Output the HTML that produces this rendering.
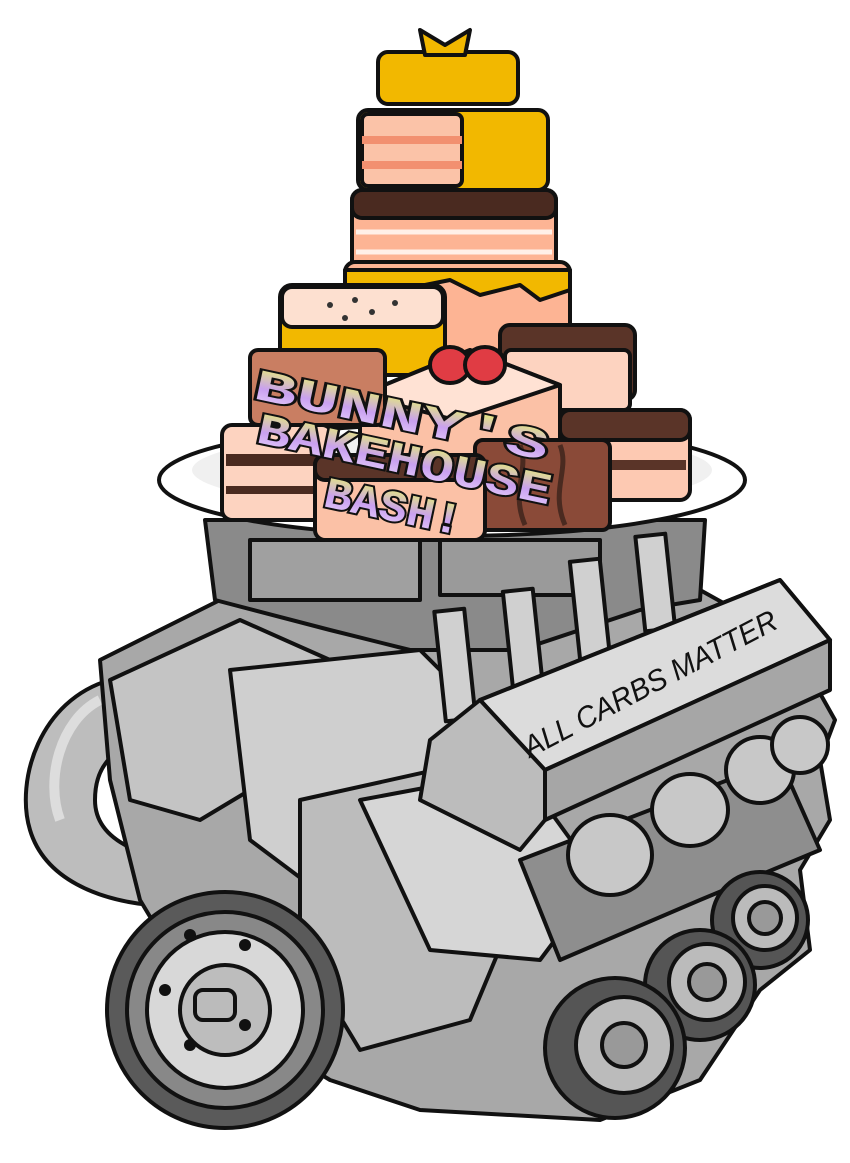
<!DOCTYPE html>
<html><head><meta charset="utf-8"><style>
html,body{margin:0;padding:0;background:#fff}
svg{display:block}
</style></head><body>
<svg width="850" height="1163" viewBox="0 0 850 1163" xmlns="http://www.w3.org/2000/svg">
<defs>
<linearGradient id="tg" x1="0" y1="0" x2="0" y2="1">
<stop offset="0" stop-color="#e8f070"/><stop offset="0.5" stop-color="#c9a0f0"/><stop offset="1" stop-color="#f0e0ff"/>
</linearGradient>
</defs>
<g stroke="#111" stroke-width="4" stroke-linejoin="round">
<path d="M110 680 C40 700 15 780 30 830 C45 880 100 900 150 905 L170 860 C120 850 95 830 95 800 C95 760 120 745 150 740 Z" fill="#bdbdbd"/>
<path d="M100 700 C60 720 45 780 60 820" fill="none" stroke="#ddd" stroke-width="10"/>
<path d="M100 660 L240 590 L430 600 L560 560 L700 590 L790 640 L835 720 L820 760 L830 820 L800 870 L810 950 L760 990 L700 1080 L600 1120 L420 1110 L330 1080 L200 1000 L140 900 L110 780 Z" fill="#a8a8a8"/>
<path d="M110 680 L240 620 L330 660 L300 760 L200 820 L130 800 Z" fill="#c4c4c4"/>
<path d="M230 670 L420 650 L470 700 L430 860 L330 900 L250 840 Z" fill="#cfcfcf"/>
<path d="M300 800 L480 760 L520 900 L470 1020 L360 1050 L300 950 Z" fill="#bcbcbc"/>
<path d="M360 800 L520 770 L600 880 L540 960 L430 950 Z" fill="#d6d6d6"/>
<path d="M520 860 L780 760 L820 850 L700 900 L560 960 Z" fill="#8e8e8e"/>
<path d="M205 520 L705 520 L700 600 L640 610 L520 650 L410 650 L330 630 L215 600 Z" fill="#8a8a8a"/>
<rect x="250" y="540" width="170" height="60" fill="#a0a0a0"/>
<rect x="440" y="540" width="160" height="55" fill="#9a9a9a"/>
<g fill="#d0d0d0">
<rect x="440" y="610" width="30" height="110" transform="rotate(-6 455 665)"/>
<rect x="508" y="590" width="30" height="95" transform="rotate(-6 523 640)"/>
<rect x="575" y="560" width="30" height="100" transform="rotate(-6 590 610)"/>
<rect x="640" y="535" width="30" height="95" transform="rotate(-6 655 580)"/>
</g>
<path d="M480 700 L780 580 L830 640 L830 680 L545 820 L490 790 Z" fill="#9a9a9a"/>
<path d="M480 700 L780 580 L830 640 L545 770 Z" fill="#dcdcdc"/>
<path d="M545 770 L830 640 L830 690 L545 820 Z" fill="#a6a6a6"/>
<path d="M430 740 L480 700 L545 770 L545 820 L520 850 L420 800 Z" fill="#bcbcbc"/>
<g fill="#c8c8c8">
<ellipse cx="610" cy="855" rx="42" ry="40"/>
<ellipse cx="690" cy="810" rx="38" ry="36"/>
<ellipse cx="760" cy="770" rx="34" ry="33"/>
<ellipse cx="800" cy="745" rx="28" ry="28"/>
</g>
<circle cx="760" cy="920" r="48" fill="#555"/><circle cx="765" cy="918" r="32" fill="#bbb"/><circle cx="765" cy="918" r="16" fill="#999"/>
<circle cx="700" cy="985" r="55" fill="#555"/><circle cx="707" cy="982" r="38" fill="#bbb"/><circle cx="707" cy="982" r="18" fill="#999"/>
<circle cx="615" cy="1048" r="70" fill="#555"/><circle cx="624" cy="1045" r="48" fill="#bbb"/><circle cx="624" cy="1045" r="22" fill="#999"/>
<circle cx="225" cy="1010" r="118" fill="#5a5a5a"/>
<circle cx="225" cy="1010" r="98" fill="#888"/>
<circle cx="225" cy="1010" r="78" fill="#d8d8d8"/>
<circle cx="225" cy="1010" r="45" fill="#bdbdbd"/>
<g fill="#111" stroke="none">
<circle cx="190" cy="935" r="6"/><circle cx="245" cy="945" r="6"/><circle cx="165" cy="990" r="6"/><circle cx="245" cy="1025" r="6"/><circle cx="190" cy="1045" r="6"/>
</g>
<rect x="195" y="990" width="40" height="30" rx="8" fill="#bbb"/>
<ellipse cx="452" cy="480" rx="293" ry="56" fill="#fff"/>
<ellipse cx="452" cy="470" rx="260" ry="40" fill="#f0f0f0" stroke="none"/>
<rect x="378" y="52" width="140" height="52" rx="10" fill="#f2b800"/>
<path d="M420 30 L445 45 L470 30 L465 55 L425 55 Z" fill="#f2b800"/>
<rect x="358" y="110" width="190" height="80" rx="10" fill="#f2b800"/>
<rect x="362" y="114" width="100" height="72" rx="6" fill="#fbc3a8"/>
<line x1="362" y1="140" x2="462" y2="140" stroke="#f29070" stroke-width="8"/>
<line x1="362" y1="165" x2="462" y2="165" stroke="#f29070" stroke-width="8"/>
<rect x="352" y="190" width="204" height="82" rx="10" fill="#fdb494"/>
<rect x="352" y="190" width="204" height="28" rx="10" fill="#4a2a20"/>
<line x1="356" y1="232" x2="552" y2="232" stroke="#fff0e8" stroke-width="5"/>
<line x1="356" y1="252" x2="552" y2="252" stroke="#fff0e8" stroke-width="5"/>
<rect x="345" y="262" width="225" height="90" rx="10" fill="#fdb494"/>
<path d="M345 270 L570 270 L570 290 L540 300 L520 285 L480 295 L450 280 L400 290 L345 285Z" fill="#f2b800"/>
<rect x="280" y="285" width="165" height="90" rx="12" fill="#f2b800"/>
<rect x="282" y="287" width="161" height="40" rx="10" fill="#fde0d0"/>
<g fill="#333" stroke="none"><circle cx="330" cy="305" r="3"/><circle cx="355" cy="300" r="3"/><circle cx="372" cy="312" r="3"/><circle cx="395" cy="303" r="3"/><circle cx="345" cy="318" r="3"/></g>
<rect x="500" y="325" width="135" height="75" rx="10" fill="#5a3428"/>
<rect x="505" y="350" width="125" height="60" rx="6" fill="#fdd3c0"/>
<rect x="560" y="410" width="130" height="90" rx="10" fill="#fdc9b2"/>
<rect x="560" y="410" width="130" height="30" rx="10" fill="#5a3428"/>
<line x1="565" y1="465" x2="686" y2="465" stroke="#5a3428" stroke-width="10"/>
<path d="M360 395 L470 350 L560 385 L560 470 L450 505 L360 470 Z" fill="#fbc1a6"/>
<path d="M360 395 L470 350 L560 385 L455 420 Z" fill="#ffe2d4"/>
<ellipse cx="450" cy="365" rx="20" ry="18" fill="#e03c44"/>
<ellipse cx="485" cy="365" rx="20" ry="18" fill="#e03c44"/>
<rect x="250" y="350" width="135" height="75" rx="8" fill="#c97e62"/>
<rect x="222" y="425" width="110" height="95" rx="10" fill="#fdd3c0"/>
<line x1="226" y1="460" x2="328" y2="460" stroke="#4a2a20" stroke-width="12"/>
<line x1="226" y1="490" x2="328" y2="490" stroke="#4a2a20" stroke-width="8"/>
<rect x="475" y="440" width="135" height="90" rx="8" fill="#8a4a38"/>
<path d="M520 445 C530 470 510 490 525 525 M560 445 C570 470 550 490 565 525" fill="none" stroke="#4a2a20" stroke-width="5"/>
<rect x="315" y="455" width="170" height="85" rx="10" fill="#fbc1a6"/>
<rect x="315" y="455" width="170" height="25" rx="10" fill="#5a3428"/>
</g>
<g font-family="Liberation Mono, monospace" font-weight="bold" fill="url(#tg)" stroke="#111" stroke-width="4" paint-order="stroke">
<text transform="translate(252,398) rotate(12)" font-size="44" textLength="300" lengthAdjust="spacingAndGlyphs">BUNNY'S</text>
<text transform="translate(255,442) rotate(12)" font-size="44" textLength="300" lengthAdjust="spacingAndGlyphs">BAKEHOUSE</text>
<text transform="translate(322,506) rotate(12)" font-size="44" textLength="140" lengthAdjust="spacingAndGlyphs">BASH!</text>
</g>
<text transform="translate(530,758) rotate(-27.6)" font-family="Liberation Sans, sans-serif" font-style="italic" font-size="30" fill="#111" textLength="282" lengthAdjust="spacingAndGlyphs">ALL CARBS MATTER</text>
</svg>
</body></html>
